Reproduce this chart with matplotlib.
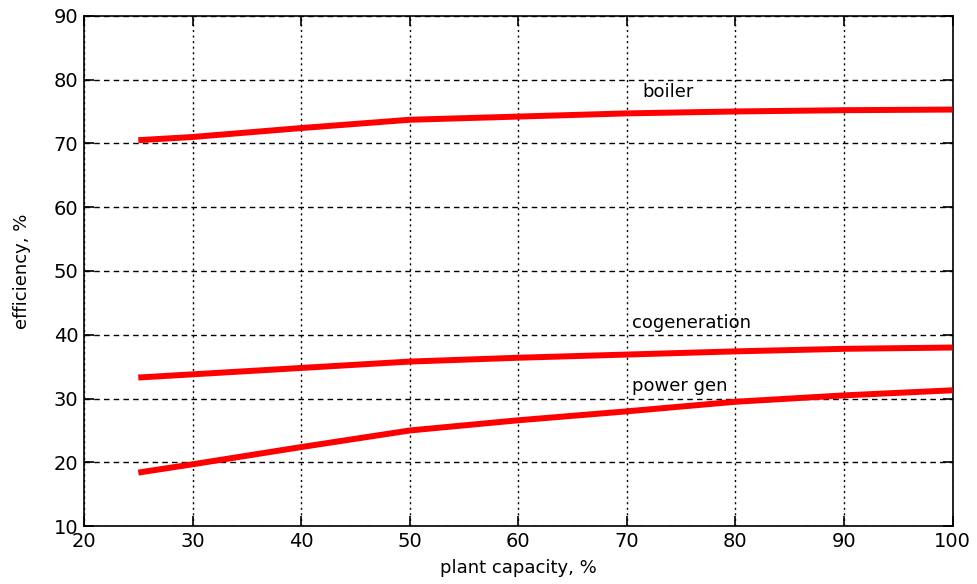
import matplotlib.pyplot as plt

plt.rcParams['font.family'] = ['DejaVu Sans']

capacity = [25, 30, 40, 50, 60, 70, 80, 90, 100]
boiler = [70.5, 71.0, 72.4, 73.7, 74.2, 74.7, 75.0, 75.2, 75.3]
cogeneration = [33.3, 33.8, 34.8, 35.8, 36.4, 36.9, 37.4, 37.8, 38.0]
power_gen = [18.4, 19.7, 22.4, 25.0, 26.6, 28.0, 29.5, 30.5, 31.3]

fig = plt.figure(figsize=(9.77, 5.84), dpi=100)
ax = fig.add_axes([0.086, 0.099, 0.889, 0.874])

for y in (boiler, cogeneration, power_gen):
    ax.plot(capacity, y, color='#ff0000', lw=4.3, solid_capstyle='butt', zorder=3)

ax.text(71.4, 78.1, 'boiler', fontsize=13, va='center')
ax.text(70.5, 41.8, 'cogeneration', fontsize=13, va='center')
ax.text(70.5, 32.0, 'power gen', fontsize=13, va='center')

ax.set_xlim(20, 100)
ax.set_ylim(10, 90)
ax.set_xticks(range(20, 101, 10))
ax.set_yticks(range(10, 91, 10))
ax.xaxis.grid(True, color='black', lw=1, linestyle=(0, (1.5, 2.5)))
ax.yaxis.grid(True, color='black', lw=1, linestyle=(0, (4, 3)))
ax.tick_params(direction='in', length=7, width=1.2, labelsize=14,
               top=True, right=True, pad=4)
for s in ax.spines.values():
    s.set_linewidth(1.2)

ax.set_xlabel('plant capacity, %', fontsize=13, labelpad=6)
ax.set_ylabel('efficiency, %', fontsize=13, labelpad=16)

fig.savefig('out.png', dpi=100)
